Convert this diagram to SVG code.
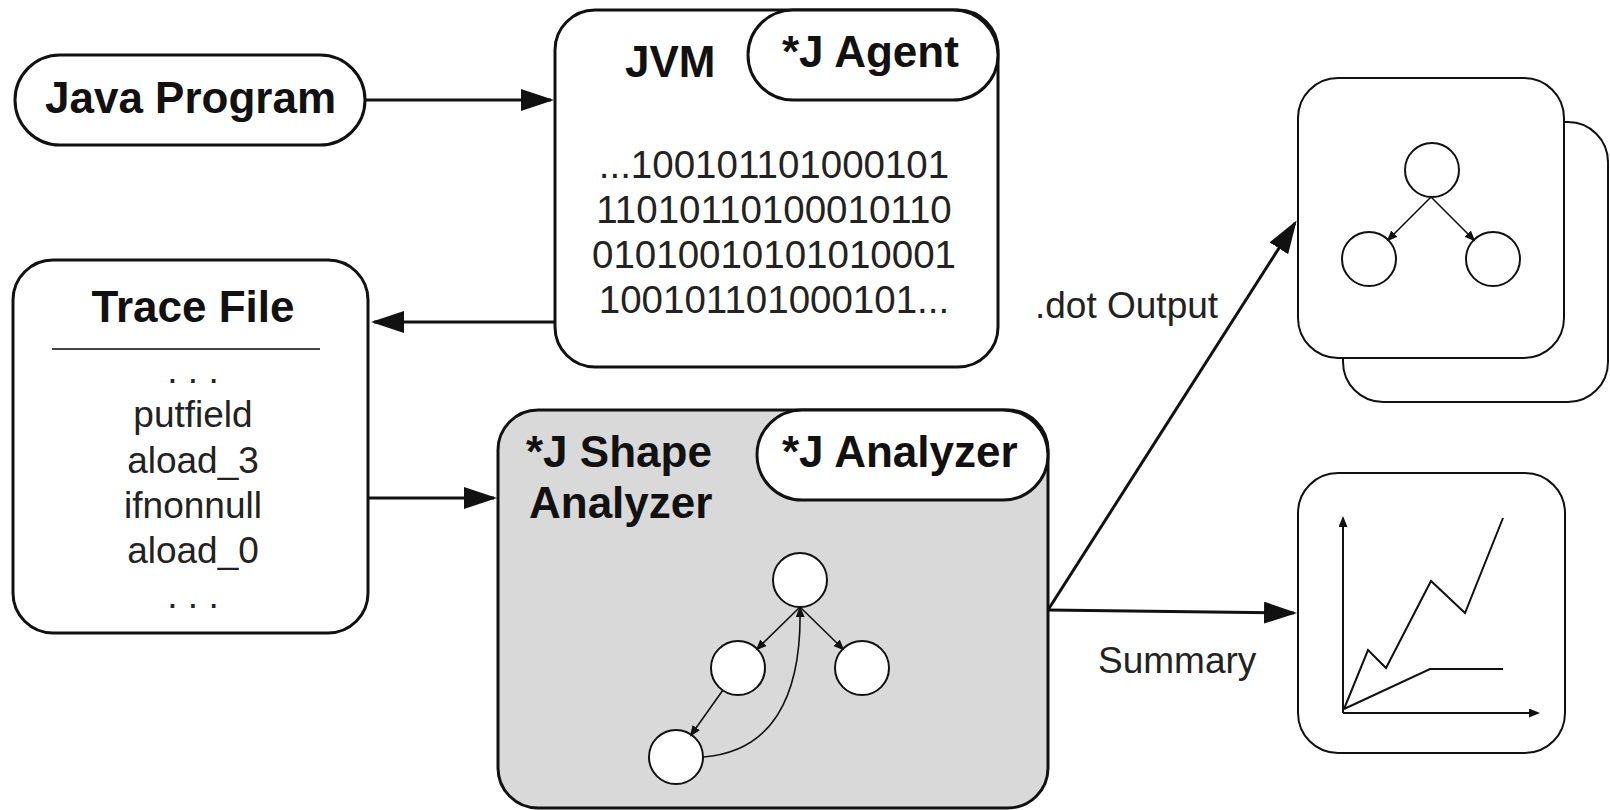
<svg xmlns="http://www.w3.org/2000/svg" width="1610" height="810" viewBox="0 0 1610 810">
<style>
text{font-family:"Liberation Sans",Arial,sans-serif;fill:#111}
.t{font-weight:bold;font-size:44px}
.r{font-size:37px;fill:#222}
.b{font-size:38.5px;fill:#222}
.box{fill:#fff;stroke:#111;stroke-width:3}
.thin{fill:#fff;stroke:#111;stroke-width:2}
.circ{fill:#fff;stroke:#111;stroke-width:2}
.conn{fill:none;stroke:#111;stroke-width:3}
.sm{fill:none;stroke:#111;stroke-width:1.6}
.ln{fill:none;stroke:#111;stroke-width:2}
</style>
<defs>
<marker id="big" markerUnits="userSpaceOnUse" markerWidth="34" markerHeight="24" refX="30" refY="11" orient="auto">
<path d="M0,0 L33,11 L0,22 z" fill="#111"/>
</marker>
<marker id="small" markerUnits="userSpaceOnUse" markerWidth="12" markerHeight="10" refX="9" refY="4.5" orient="auto">
<path d="M0,0 L11,4.5 L0,9 z" fill="#111"/>
</marker>
</defs>
<rect width="1610" height="810" fill="#fff"/>

<g id="node-java">
<rect class="box" x="15" y="55" width="350" height="90" rx="45"/>
<text class="t" x="45" y="113">Java Program</text>
</g>

<g id="node-jvm">
<rect class="box" x="555" y="10" width="443" height="357" rx="40"/>
<rect class="box" x="748" y="10" width="250" height="90" rx="45"/>
<text class="t" x="625" y="77">JVM</text>
<text class="t" x="782" y="67">*J Agent</text>
<g text-anchor="middle">
<text class="b" x="774" y="178">...100101101000101</text>
<text class="b" x="774" y="223">11010110100010110</text>
<text class="b" x="774" y="268">01010010101010001</text>
<text class="b" x="774" y="313">100101101000101...</text>
</g>
</g>

<g id="node-trace">
<rect class="box" x="13" y="260" width="355" height="373" rx="40"/>
<text class="t" x="193" y="322" text-anchor="middle">Trace File</text>
<line x1="52" y1="349" x2="320" y2="349" stroke="#444" stroke-width="2"/>
<g text-anchor="middle">
<text class="r" x="193" y="383">. . .</text>
<text class="r" x="193" y="427">putfield</text>
<text class="r" x="193" y="473">aload_3</text>
<text class="r" x="193" y="518">ifnonnull</text>
<text class="r" x="193" y="563">aload_0</text>
<text class="r" x="193" y="608">. . .</text>
</g>
</g>

<g id="node-analyzer">
<rect x="498" y="410" width="550" height="398" rx="40" fill="#d9d9d9" stroke="#111" stroke-width="3"/>
<rect class="box" x="757" y="410" width="291" height="90" rx="45"/>
<text class="t" x="526" y="467">*J Shape</text>
<text class="t" x="529" y="518">Analyzer</text>
<text class="t" x="782" y="467">*J Analyzer</text>
<circle class="circ" cx="800" cy="580" r="27"/>
<circle class="circ" cx="738" cy="668" r="27"/>
<circle class="circ" cx="862" cy="668" r="27"/>
<circle class="circ" cx="676" cy="757" r="27"/>
<line class="sm" x1="800" y1="607" x2="757" y2="649" marker-end="url(#small)"/>
<line class="sm" x1="800" y1="607" x2="843" y2="649" marker-end="url(#small)"/>
<line class="sm" x1="723" y1="690" x2="691" y2="735" marker-end="url(#small)"/>
<path class="sm" d="M703,757 C770,752 802,700 800,608" marker-end="url(#small)"/>
</g>

<g id="node-dot">
<rect class="thin" x="1343" y="122" width="265" height="280" rx="40"/>
<rect class="thin" x="1298" y="78" width="266" height="280" rx="40"/>
<circle class="circ" cx="1432" cy="170" r="27"/>
<circle class="circ" cx="1369" cy="259" r="27"/>
<circle class="circ" cx="1493" cy="259" r="27"/>
<line class="sm" x1="1431" y1="197" x2="1388" y2="240" marker-end="url(#small)"/>
<line class="sm" x1="1431" y1="197" x2="1474" y2="240" marker-end="url(#small)"/>
</g>

<g id="node-summary">
<rect class="thin" x="1298" y="473" width="267" height="280" rx="40"/>
<line class="ln" x1="1343" y1="713" x2="1343" y2="518" marker-end="url(#small)"/>
<line class="ln" x1="1343" y1="713" x2="1538" y2="713" marker-end="url(#small)"/>
<polyline class="ln" points="1344,709 1368,650 1386,668 1431,581 1465,613 1503,518"/>
<polyline class="ln" points="1344,709 1430,669 1503,669"/>
</g>

<g id="connectors">
<line class="conn" x1="365" y1="100" x2="551" y2="100" marker-end="url(#big)"/>
<line class="conn" x1="555" y1="322" x2="374" y2="322" marker-end="url(#big)"/>
<line class="conn" x1="368" y1="498" x2="494" y2="498" marker-end="url(#big)"/>
<line class="conn" x1="1048" y1="610" x2="1295" y2="223" marker-end="url(#big)"/>
<line class="conn" x1="1048" y1="610" x2="1294" y2="613" marker-end="url(#big)"/>
<text class="r" x="1035" y="318">.dot Output</text>
<text class="r" x="1098" y="673">Summary</text>
</g>
</svg>
